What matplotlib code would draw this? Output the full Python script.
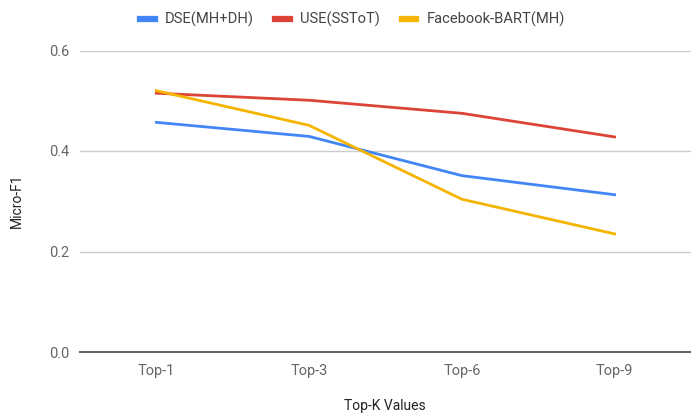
import matplotlib.pyplot as plt

plt.rcParams['font.family'] = ['Roboto', 'DejaVu Sans']

categories = ['Top-1', 'Top-3', 'Top-6', 'Top-9']
dse = [0.457, 0.429, 0.351, 0.313]
use = [0.515, 0.501, 0.475, 0.428]
bart = [0.520, 0.451, 0.304, 0.235]
yticks = [0.0, 0.2, 0.4, 0.6]

fig = plt.figure(figsize=(6.91, 4.16), dpi=100)
ax = fig.add_axes([80 / 691, 1 - 352 / 416, 611 / 691, (352 - 50.5) / 416])

x = range(len(categories))
ax.plot(x, dse, color='#4285F4', lw=2, label='DSE(MH+DH)')
ax.plot(x, use, color='#DB4437', lw=2, label='USE(SSToT)')
ax.plot(x, bart, color='#F4B400', lw=2, label='Facebook-BART(MH)')

ax.set_xlim(-0.5, 3.5)
ax.set_ylim(0, 0.6)
ax.set_xticks(list(x))
ax.set_xticklabels(categories)
ax.set_yticks(yticks)
ax.set_yticklabels([f'{v:.1f}' for v in yticks])
ax.grid(axis='y', color='#cccccc', lw=1)
ax.set_axisbelow(True)
for s in ['top', 'right', 'left']:
    ax.spines[s].set_visible(False)
ax.spines['bottom'].set_color('#666666')
ax.spines['bottom'].set_linewidth(1.5)
ax.tick_params(length=0, labelsize=10.5, colors='#666666', pad=8)
ax.tick_params(axis='x', pad=9)

ax.set_ylabel('Micro-F1', fontsize=10, color='#222222')
ax.yaxis.set_label_coords(-56 / 611, 0.5)
ax.set_xlabel('Top-K Values', fontsize=10, color='#222222', va='center')
ax.xaxis.set_label_coords((385 - 80) / 611, -(406 - 352) / 301.5)

ax.legend(loc='lower center', bbox_to_anchor=(0.5 - 33 / 611, 1.035), ncol=3, frameon=False,
          fontsize=10.6, labelcolor='#444444', handlelength=1.0, handleheight=0.3,
          columnspacing=1.45, handletextpad=0.7)
leg = ax.get_legend()
for h in leg.legend_handles:
    h.set_linewidth(4.5)

fig.savefig('out.png', dpi=100)
